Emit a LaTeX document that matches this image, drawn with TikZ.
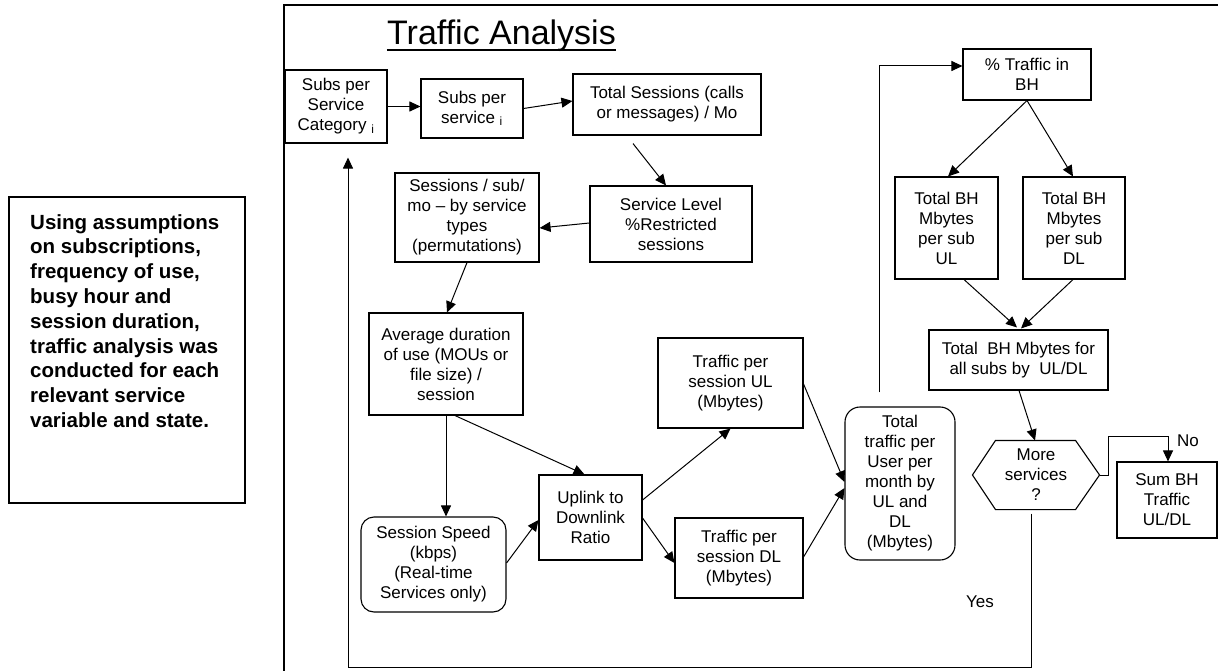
\documentclass[tikz,border=0pt]{standalone}
\usepackage{fontspec}
\setmainfont{Liberation Sans}
\usetikzlibrary{arrows.meta}

\tikzset{
  box/.style={draw, line width=1.1pt, inner sep=0pt, align=center,
              font=\fontsize{17}{20}\selectfont},
  sz/.style 2 args={minimum width=#1pt, minimum height=#2pt},
  rbox/.style={box, rounded corners=13pt},
  arr/.style={line width=1pt, -{Triangle[length=11pt,width=10pt]}},
  lbl/.style={font=\fontsize{17}{20}\selectfont, inner sep=0pt},
}

\begin{document}
\begin{tikzpicture}[x=1pt, y=-1pt]
\useasboundingbox (0,0) rectangle (1218,671);

% outer frame of the flow chart
\draw[line width=2pt] (1218,5.5) -- (284,5.5) -- (284,671);

% side note
\node[draw, line width=1.8pt, sz={236}{306}, inner sep=0pt] (note) at (127,350) {};
\node[anchor=west, align=left, inner sep=0pt,
      font=\bfseries\fontsize{20.5}{24.8}\selectfont] (notetext) at (30,321)
  {Using assumptions\\on subscriptions,\\frequency of use,\\busy hour and\\session duration,\\traffic analysis was\\conducted for each\\relevant service\\variable and state.};

% title
\node[anchor=base, inner sep=0pt, font=\fontsize{34}{40}\selectfont] (title) at (501.5,45) {Traffic Analysis};
\draw[line width=2pt] ([yshift=-5pt]title.base west) -- ([yshift=-5pt]title.base east);

% process steps
\node[box, sz={102}{73}]  (cat)  at (336,106.5) {Subs per\\Service\\Category \textsubscript{i}};
\node[box, sz={102}{59}]  (svc)  at (472,108.5) {Subs per\\service \textsubscript{i}};
\node[box, sz={188}{61}]  (ts)   at (667,104.5) {Total Sessions (calls\\or messages) / Mo};
\node[box, sz={162}{76}]  (sl)   at (671,224)   {Service Level\\\%Restricted\\sessions};
\node[box, sz={144}{89}]  (ss)   at (467,217.5) {Sessions / sub/\\mo – by service\\types\\(permutations)};
\node[box, sz={154}{102}] (avg)  at (446,364)   {Average duration\\of use (MOUs or\\file size) /\\session};
\node[rbox, sz={145}{95}] (spd)  at (433.5,564.5) {Session Speed\\(kbps)\\(Real-time\\Services only)};
\node[box, sz={103}{85}]  (ul)   at (590.5,517.5) {Uplink to\\Downlink\\Ratio};
\node[box, sz={145}{90}]  (tul)  at (730.5,383) {Traffic per\\session UL\\(Mbytes)};
\node[box, sz={128}{80}]  (tdl)  at (739,558)   {Traffic per\\session DL\\(Mbytes)};
\node[box, rounded corners=15pt, sz={110}{153}] (tot) at (900,483.5) {Total\\traffic per\\User per\\month by\\UL and\\DL\\(Mbytes)};
\node[box, sz={128}{51}]  (bh)   at (1027,74.5) {\% Traffic in\\BH};
\node[box, sz={103}{102}] (bhul) at (946.5,228) {Total BH\\Mbytes\\per sub\\UL};
\node[box, sz={102}{102}] (bhdl) at (1074,228)  {Total BH\\Mbytes\\per sub\\DL};
\node[box, sz={179}{60}]  (all)  at (1018.5,360) {Total~~BH Mbytes for\\all subs by~~UL/DL};
\node[box, draw=none, sz={126}{68}] (more) at (1036,475) {More\\services\\?};
\node[box, sz={100}{76}]  (sum)  at (1167,500)  {Sum BH\\Traffic\\UL/DL};

% decision outline
\draw[line width=1.1pt] (more.west) -- ([xshift=23pt]more.north west) -- ([xshift=-24pt]more.north east)
  -- (more.east) -- ([xshift=-24pt]more.south east) -- ([xshift=23pt]more.south west) -- cycle;

% branch labels
\node[lbl] (no)  at (1188,441) {No};
\node[lbl] (yes) at (980,602)  {Yes};

% connectors
\draw[arr] (cat.east) -- (cat.east -| svc.west);
\draw[arr] (svc.east) -- ([shift={(0,-3.5)}]ts.west);
\draw[arr] ([shift={(-34,8)}]ts.south) -- ([shift={(-5,0)}]sl.north);
\draw[arr] ([shift={(0,-1)}]sl.west) -- ([shift={(0,10.5)}]ss.east);
\draw[arr] (ss.south) -- ([shift={(1,0)}]avg.north);
\draw[arr] (avg.south) -- (avg.south |- spd.north);
\draw[arr] ([shift={(9,0)}]avg.south) -- ([shift={(-6,0)}]ul.north);
\draw[arr] ([shift={(0,-1.5)}]spd.east) -- ([shift={(0,2.5)}]ul.west);
\draw[arr] ([shift={(0,-17.5)}]ul.east) -- (tul.south);
\draw[arr] ([shift={(0,0.5)}]ul.east) -- ([shift={(0,5)}]tdl.west);
\draw[arr] ([shift={(0,1)}]tul.east) -- ([shift={(0,-1.5)}]tot.west);
\draw[arr] ([shift={(0,-1)}]tdl.east) -- ([shift={(0,4.5)}]tot.west);
\draw[arr] ([shift={(-21,-14)}]tot.north) |- ([shift={(0,-8.5)}]bh.west);
\draw[arr] (bh.south) -- ([shift={(1.5,0)}]bhul.north);
\draw[arr] (bh.south) -- ([shift={(-1,0)}]bhdl.north);
\draw[arr] ([shift={(17.5,0)}]bhul.south) -- ([shift={(-1.5,-2)}]all.north);
\draw[arr] ([shift={(-1,0)}]bhdl.south) -- ([shift={(2.5,-1)}]all.north);
\draw[arr] ([shift={(0.5,0)}]all.south) -- ([shift={(-1,0)}]more.north);
\draw[arr] (more.east) -- ++(9,0) |- ([shift={(1,-25)}]sum.north) -- ([shift={(1,0)}]sum.north);
\draw[arr] ([shift={(-5,4)}]more.south) -- ++(0,154) -| ([shift={(12,14)}]cat.south);
\end{tikzpicture}
\end{document}
